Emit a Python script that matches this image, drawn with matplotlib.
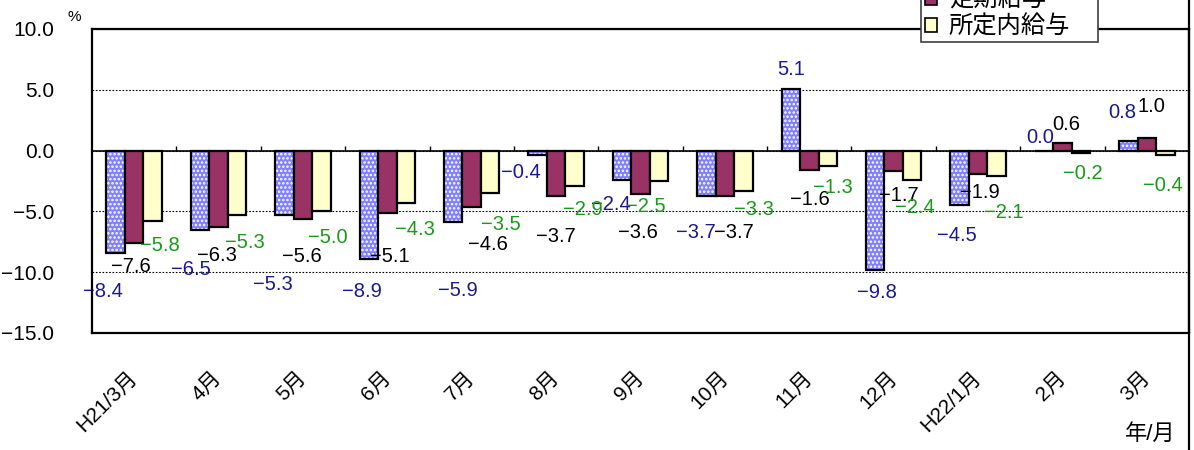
import numpy as np
import matplotlib
matplotlib.use("Agg")
import matplotlib.pyplot as plt
from matplotlib.patches import Patch
from matplotlib.lines import Line2D

plt.rcParams['font.family'] = ['Liberation Sans', 'Noto Sans CJK JP', 'DejaVu Sans']
plt.rcParams['hatch.linewidth'] = 1.2
plt.rcParams['axes.unicode_minus'] = True

# ---- data ----
categories = ["H21/3月", "4月", "5月", "6月", "7月", "8月", "9月", "10月", "11月",
              "12月", "H22/1月", "2月", "3月"]
series_names = ["現金給与総額", "定期給与", "所定内給与"]
total_pay = [-8.4, -6.5, -5.3, -8.9, -5.9, -0.4, -2.4, -3.7, 5.1, -9.8, -4.5, 0.0, 0.8]
regular_pay = [-7.6, -6.3, -5.6, -5.1, -4.6, -3.7, -3.6, -3.7, -1.6, -1.7, -1.9, 0.6, 1.0]
scheduled_pay = [-5.8, -5.3, -5.0, -4.3, -3.5, -2.9, -2.5, -3.3, -1.3, -2.4, -2.1, -0.2, -0.4]
y_ticks = [10.0, 5.0, 0.0, -5.0, -10.0, -15.0]

# label offsets (pixels) relative to each bar end, matching the reference's manual placement
off_total = [(-13, -39), (-9, -40), (-12, -69), (-7, -33), (5, -68), (-17, -17), (-11, -25),
             (-11, -37), (0, 19), (2, -23), (-3, -30), (-4, 13), (-6, 28)]
off_regular = [(-3, -23), (-2, -28), (-1, -38), (2, -44), (16, -38), (0, -41), (-3, -38),
               (9, -37), (1, -29), (5, -24), (2, -19), (4, 19), (5, 32)]
off_sched = [(7, -24), (8, -27), (6, -26), (9, -27), (11, -31), (8, -24), (-13, -26),
             (11, -19), (5, -21), (3, -28), (7, -36), (2, -20), (-2, -30)]

# ---- styles ----
c_blue = '#8080FF'
c_maroon = '#993366'
c_yellow = '#FFFFCC'
lab_colors = ['#1A1A8C', 'black', '#1A9A1A']

W, H = 1194, 450
fig = plt.figure(figsize=(W / 100, H / 100), dpi=100)
ax = fig.add_axes([92 / W, (H - 333) / H, (1189 - 92) / W, (333 - 29) / H])

x = np.arange(len(categories))
bw = 0.219

def fmt(v):
    return f"{v:.1f}".replace('-', '\u2212')

series = [total_pay, regular_pay, scheduled_pay]
offsets = [off_total, off_regular, off_sched]
for k, (vals, offs) in enumerate(zip(series, offsets)):
    xs = x + (k - 1) * bw
    if k == 0:
        ax.bar(xs, vals, bw, color=c_blue, edgecolor='white', hatch='....', linewidth=0, zorder=3)
        ax.bar(xs, vals, bw, facecolor='none', edgecolor='black', linewidth=1.6, zorder=4)
    else:
        ax.bar(xs, vals, bw, color=[c_maroon, c_yellow][k - 1], edgecolor='black',
               linewidth=1.6, zorder=4)
    for xi, v, (dx, dy) in zip(xs, vals, offs):
        ax.annotate(fmt(v), (xi, v), xytext=(dx, dy), textcoords='offset pixels',
                    ha='center', va='center', fontsize=14.5, color=lab_colors[k], zorder=6)

ax.set_xlim(-0.5, len(categories) - 0.5)
ax.set_ylim(-15, 10)
ax.set_yticks(y_ticks)
ax.set_yticklabels([fmt(v) for v in y_ticks], fontsize=15)
ax.tick_params(axis='y', length=0, pad=27)
ax.set_xticks(x)
ax.set_xticklabels(categories, rotation=45, ha='right', rotation_mode='anchor', fontsize=15)
ax.tick_params(axis='x', length=0, pad=30)
for lbl in ax.get_xticklabels():
    lbl.set_va('center')

ax.yaxis.grid(True, linestyle=(0, (1.5, 1.5)), color='black', linewidth=0.8, zorder=1)
ax.axhline(0, color='black', linewidth=1.2, zorder=5)
ax.vlines(np.arange(0.5, len(categories) - 0.5), 0, 0.4, color='black', linewidth=1.0, zorder=5)
for s in ax.spines.values():
    s.set_linewidth(1.6)
    s.set_zorder(7)

# outer chart border on the right
fig.add_artist(Line2D([1189 / W, 1189 / W], [0, 1], color='black', linewidth=1.6,
                      transform=fig.transFigure))

fig.text(67 / W, (H - 17) / H, '%', fontsize=11, ha='left', va='center')
fig.text(1150 / W, (H - 434) / H, '年/月', fontsize=16, ha='center', va='center')

handles = [Patch(facecolor=c_blue, edgecolor='black', hatch='....', linewidth=1.2),
           Patch(facecolor=c_maroon, edgecolor='black', linewidth=1.2),
           Patch(facecolor=c_yellow, edgecolor='black', linewidth=1.2)]
leg = fig.legend(handles, series_names, loc='lower left',
                 bbox_to_anchor=(921 / W, (H - 42) / H), bbox_transform=fig.transFigure,
                 fontsize=17.5, handlelength=0.5, handleheight=0.5, handletextpad=0.5,
                 labelspacing=0.15, borderpad=0.15, borderaxespad=0, fancybox=False,
                 framealpha=1, edgecolor='#404040')
leg.get_frame().set_linewidth(1.2)
leg.set_zorder(10)

fig.savefig('out.png', dpi=100)
